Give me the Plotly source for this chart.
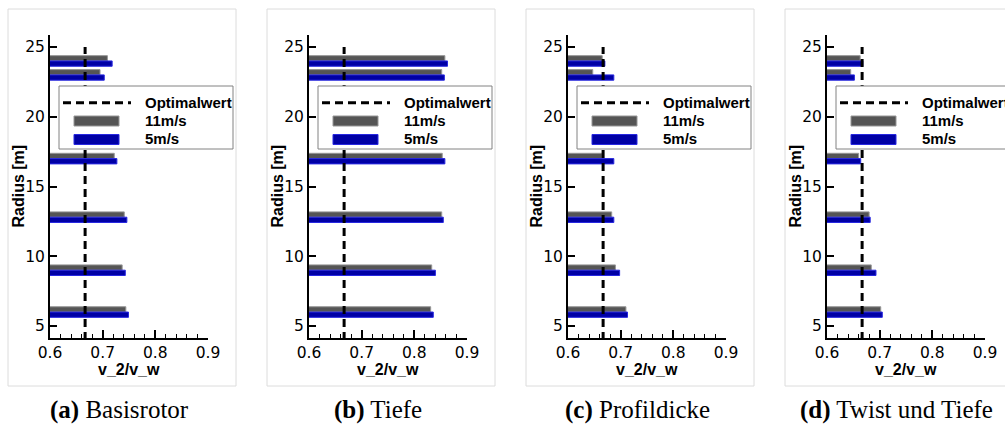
import plotly.graph_objects as go

W, H = 1005, 427

# ---------------- data ----------------
radius = [6.0, 9.0, 12.8, 17.0, 23.0, 24.0]
panels = ["Basisrotor", "Tiefe", "Profildicke", "Twist und Tiefe"]
panel_letters = ["a", "b", "c", "d"]

v11_basis = [0.744, 0.737, 0.741, 0.722, 0.695, 0.709]
v5_basis = [0.749, 0.743, 0.746, 0.727, 0.703, 0.718]

v11_tiefe = [0.831, 0.833, 0.852, 0.853, 0.852, 0.858]
v5_tiefe = [0.836, 0.840, 0.855, 0.858, 0.857, 0.863]

v11_profil = [0.710, 0.690, 0.683, 0.665, 0.647, 0.665]
v5_profil = [0.713, 0.698, 0.687, 0.687, 0.687, 0.670]

v11_twist = [0.702, 0.684, 0.680, 0.660, 0.645, 0.663]
v5_twist = [0.705, 0.693, 0.682, 0.664, 0.652, 0.668]

series_11 = [v11_basis, v11_tiefe, v11_profil, v11_twist]
series_5 = [v5_basis, v5_tiefe, v5_profil, v5_twist]

optimalwert = 2.0 / 3.0
opt_radius_span = [4.0, 25.0]

x_ticks = [0.6, 0.7, 0.8, 0.9]
legend_labels = ["Optimalwert", "11m/s", "5m/s"]

# ---------------- style ----------------
GRAY = "rgb(85,85,85)"
GRAY_EDGE = "rgb(150,150,150)"
BLUE = "rgb(0,0,165)"
BLUE_EDGE = "rgb(40,40,225)"
BAR_W = 0.38

def px(x):
    return x / W

def py(y):
    return 1 - y / H

axis_left = [50, 309, 568, 827]
axis_w = 158
y_top, y_bot = 35, 338
frame_left = [8, 267, 526, 785]
frame_w = 228

fig = go.Figure()
shapes = []
annotations = []
layout_axes = {}

for k in range(4):
    sx = "" if k == 0 else str(k + 1)
    xa, ya = "x" + sx, "y" + sx

    fig.add_trace(go.Bar(
        x=series_11[k], y=radius, orientation="h", width=BAR_W, offset=0,
        marker=dict(color=GRAY, line=dict(color=GRAY_EDGE, width=1)),
        xaxis=xa, yaxis=ya, showlegend=False, name=legend_labels[1]))
    fig.add_trace(go.Bar(
        x=series_5[k], y=radius, orientation="h", width=BAR_W, offset=-BAR_W,
        marker=dict(color=BLUE, line=dict(color=BLUE_EDGE, width=1)),
        xaxis=xa, yaxis=ya, showlegend=False, name=legend_labels[2]))
    fig.add_trace(go.Scatter(
        x=[optimalwert, optimalwert], y=opt_radius_span, mode="lines",
        line=dict(color="black", width=3, dash="8px,5px"),
        xaxis=xa, yaxis=ya, showlegend=False, name=legend_labels[0]))

    layout_axes["xaxis" + sx] = dict(
        domain=[px(axis_left[k]), px(axis_left[k] + axis_w)],
        anchor=ya, range=[0.6, 0.9], tickvals=x_ticks,
        ticktext=[f"{v:.1f}" for v in x_ticks],
        ticks="inside", ticklen=8, tickwidth=1.5, tickcolor="black",
        minor=dict(dtick=0.02, ticks="inside", ticklen=4, tickwidth=1, tickcolor="black"),
        showline=True, linewidth=2, linecolor="black",
        showgrid=False, zeroline=False, automargin=False,
        ticklabelstandoff=-1,
        tickfont=dict(family="DejaVu Sans", size=15.5, color="black"),
    )
    layout_axes["yaxis" + sx] = dict(
        domain=[py(y_bot), py(y_top)], anchor=xa,
        range=[4.14, 25.86], tick0=0, dtick=5,
        ticks="inside", ticklen=7, tickwidth=1.5, tickcolor="black",
        showline=True, linewidth=2, linecolor="black",
        showgrid=False, zeroline=False, automargin=False,
        tickfont=dict(family="DejaVu Sans", size=15.5, color="black"),
    )

    # panel frame
    fl = frame_left[k]
    shapes.append(dict(type="rect", xref="paper", yref="paper",
                       x0=px(fl), x1=px(fl + frame_w), y0=py(386), y1=py(9),
                       line=dict(color="rgb(220,220,220)", width=1), layer="below"))

    # axis titles
    annotations.append(dict(text="<b>v_2/v_w</b>", xref="paper", yref="paper",
                            x=px(axis_left[k] + axis_w / 2), y=py(369),
                            xanchor="center", yanchor="middle", showarrow=False,
                            font=dict(family="Liberation Sans", size=16, color="black")))
    annotations.append(dict(text="<b>Radius [m]</b>", xref="paper", yref="paper",
                            x=px(fl + 10), y=py((y_top + y_bot) / 2), textangle=-90,
                            xanchor="center", yanchor="middle", showarrow=False,
                            font=dict(family="Liberation Sans", size=16, color="black")))

    # caption
    annotations.append(dict(text=f"<b>({panel_letters[k]})</b> {panels[k]}",
                            xref="paper", yref="paper",
                            x=px(fl + frame_w / 2 - 3), y=py(410),
                            xanchor="center", yanchor="middle", showarrow=False,
                            font=dict(family="Liberation Serif", size=25, color="black")))

    # manual legend
    L = axis_left[k] + 9
    shapes.append(dict(type="rect", xref="paper", yref="paper",
                       x0=px(L), x1=px(L + 174), y0=py(149), y1=py(86),
                       fillcolor="white", line=dict(color="rgb(130,130,130)", width=1),
                       layer="above"))
    shapes.append(dict(type="line", xref="paper", yref="paper",
                       x0=px(L + 4), x1=px(L + 72), y0=py(102.7), y1=py(102.7),
                       line=dict(color="black", width=3, dash="8px,5px"), layer="above"))
    shapes.append(dict(type="rect", xref="paper", yref="paper",
                       x0=px(L + 15), x1=px(L + 60), y0=py(126), y1=py(116),
                       fillcolor=GRAY, line=dict(color=GRAY_EDGE, width=1), layer="above"))
    shapes.append(dict(type="rect", xref="paper", yref="paper",
                       x0=px(L + 15), x1=px(L + 60), y0=py(144.5), y1=py(134.5),
                       fillcolor=BLUE, line=dict(color=BLUE_EDGE, width=1), layer="above"))
    for lbl, yy in zip(legend_labels, [102.7, 120.7, 138.5]):
        annotations.append(dict(text=f"<b>{lbl}</b>", xref="paper", yref="paper",
                                x=px(L + 84), y=py(yy), xanchor="left", yanchor="middle",
                                showarrow=False,
                                font=dict(family="Liberation Sans", size=15, color="black")))

fig.update_layout(
    template="none",
    width=W, height=H, margin=dict(l=0, r=0, t=0, b=0, pad=0),
    paper_bgcolor="white", plot_bgcolor="white",
    barmode="overlay", showlegend=False,
    shapes=shapes, annotations=annotations,
    **layout_axes,
)

fig.write_html("out.html")
